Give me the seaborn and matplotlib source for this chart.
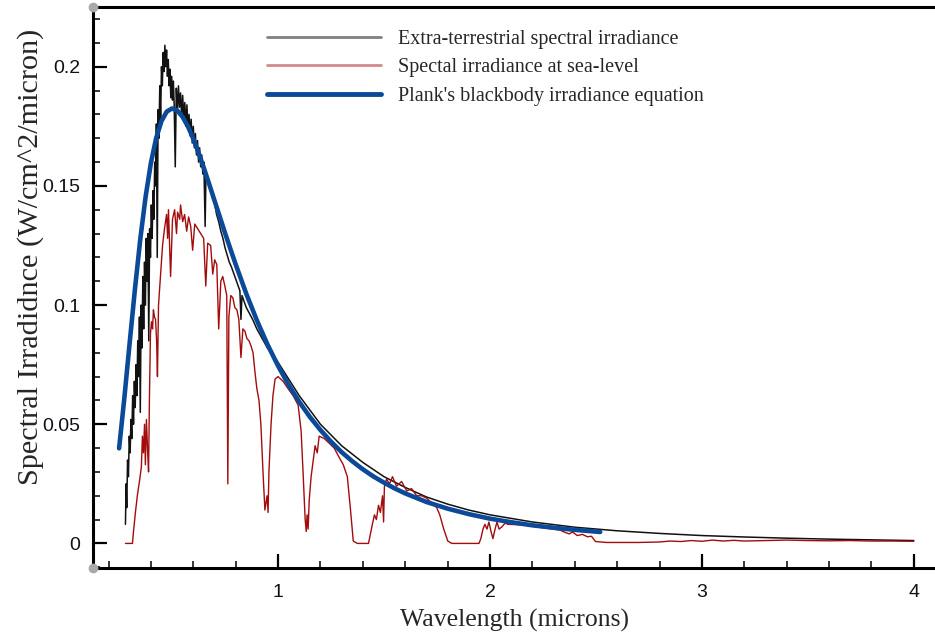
import matplotlib
matplotlib.use("Agg")
import matplotlib.pyplot as plt
import seaborn as sns
import pandas as pd
from matplotlib.lines import Line2D
from matplotlib.ticker import MultipleLocator

# ---------------- data ----------------
ext_wl = [0.280, 0.283, 0.286, 0.290, 0.294, 0.298, 0.302, 0.306, 0.310, 0.314,
          0.318, 0.322, 0.326, 0.330, 0.334, 0.338, 0.342, 0.346, 0.350, 0.354,
          0.358, 0.362, 0.366, 0.370, 0.374, 0.378, 0.382, 0.386, 0.390, 0.394,
          0.398, 0.402, 0.406, 0.410, 0.414, 0.418, 0.422, 0.426, 0.430, 0.434,
          0.438, 0.442, 0.446, 0.450, 0.454, 0.458, 0.462, 0.466, 0.470, 0.474,
          0.478, 0.482, 0.486, 0.490, 0.494, 0.498, 0.502, 0.506, 0.510, 0.515,
          0.520, 0.525, 0.530, 0.535, 0.540, 0.545, 0.550, 0.555, 0.560, 0.565,
          0.570, 0.575, 0.580, 0.585, 0.590, 0.595, 0.600, 0.605, 0.610, 0.615,
          0.620, 0.625, 0.630, 0.635, 0.640, 0.645, 0.650, 0.656, 0.660, 0.670,
          0.680, 0.690, 0.700, 0.710, 0.720, 0.730, 0.740, 0.750, 0.760, 0.770,
          0.780, 0.800, 0.820, 0.825, 0.830, 0.850, 0.880, 0.900, 0.950, 1.000,
          1.100, 1.200, 1.300, 1.400, 1.500, 1.600, 1.700, 1.800, 1.900, 2.000,
          2.200, 2.400, 2.600, 2.800, 3.000, 3.200, 3.400, 3.600, 3.800, 4.000]
ext_irr = [0.008, 0.025, 0.015, 0.035, 0.028, 0.045, 0.038, 0.052, 0.044, 0.062,
           0.050, 0.068, 0.057, 0.075, 0.062, 0.085, 0.070, 0.095, 0.055, 0.100,
           0.082, 0.112, 0.090, 0.118, 0.100, 0.128, 0.110, 0.130, 0.085, 0.132,
           0.120, 0.142, 0.128, 0.148, 0.136, 0.160, 0.150, 0.176, 0.120, 0.182,
           0.170, 0.192, 0.178, 0.200, 0.192, 0.206, 0.198, 0.209, 0.200, 0.207,
           0.196, 0.203, 0.192, 0.199, 0.187, 0.196, 0.186, 0.194, 0.184, 0.158,
           0.191, 0.181, 0.192, 0.183, 0.189, 0.179, 0.188, 0.178, 0.185, 0.175,
           0.184, 0.174, 0.180, 0.171, 0.178, 0.168, 0.175, 0.166, 0.172, 0.163,
           0.169, 0.160, 0.166, 0.158, 0.163, 0.155, 0.160, 0.133, 0.156, 0.152,
           0.149, 0.146, 0.143, 0.138, 0.135, 0.131, 0.128, 0.124, 0.121, 0.118,
           0.116, 0.111, 0.106, 0.094, 0.104, 0.099, 0.094, 0.090, 0.082, 0.076,
           0.062, 0.050, 0.041, 0.034, 0.028, 0.0235, 0.0195, 0.0165, 0.014, 0.012,
           0.0090, 0.0068, 0.0053, 0.0042, 0.0033, 0.0027, 0.0022, 0.0018, 0.0015, 0.0012]

sea_wl = [0.280, 0.313, 0.318, 0.327, 0.336, 0.346, 0.355, 0.360, 0.365, 0.370,
          0.374, 0.379, 0.384, 0.389, 0.393, 0.398, 0.403, 0.408, 0.412, 0.417,
          0.422, 0.427, 0.431, 0.436, 0.445, 0.455, 0.464, 0.474, 0.479, 0.483,
          0.493, 0.502, 0.512, 0.521, 0.526, 0.536, 0.540, 0.550, 0.559, 0.569,
          0.578, 0.588, 0.597, 0.607, 0.621, 0.635, 0.649, 0.659, 0.668, 0.682,
          0.692, 0.701, 0.711, 0.720, 0.730, 0.739, 0.749, 0.758, 0.763, 0.768,
          0.777, 0.787, 0.796, 0.806, 0.815, 0.825, 0.834, 0.844, 0.853, 0.863,
          0.872, 0.882, 0.891, 0.900, 0.910, 0.919, 0.929, 0.938, 0.948, 0.953,
          0.957, 0.967, 0.976, 0.986, 1.000, 1.024, 1.047, 1.071, 1.095, 1.109,
          1.118, 1.128, 1.133, 1.137, 1.142, 1.147, 1.156, 1.166, 1.175, 1.185,
          1.194, 1.218, 1.242, 1.265, 1.289, 1.308, 1.327, 1.341, 1.355, 1.374,
          1.427, 1.436, 1.445, 1.455, 1.464, 1.474, 1.483, 1.493, 1.498, 1.502,
          1.512, 1.526, 1.540, 1.559, 1.583, 1.607, 1.630, 1.654, 1.678, 1.701,
          1.725, 1.749, 1.763, 1.782, 1.801, 1.820, 1.948, 1.957, 1.967, 1.976,
          1.986, 1.995, 2.005, 2.014, 2.024, 2.033, 2.043, 2.057, 2.071, 2.085,
          2.150, 2.250, 2.330, 2.355, 2.374, 2.389, 2.412, 2.436, 2.460, 2.479,
          2.498, 2.550, 2.700, 2.800, 2.850, 2.900, 2.950, 3.000, 3.050, 3.100,
          3.150, 3.200, 3.300, 3.400, 3.500, 3.600, 3.700, 3.800, 3.900, 4.000]
sea_irr = [0.000, 0.000, 0.005, 0.013, 0.020, 0.026, 0.032, 0.045, 0.038, 0.050,
           0.033, 0.052, 0.040, 0.030, 0.060, 0.088, 0.093, 0.090, 0.098, 0.095,
           0.094, 0.085, 0.070, 0.100, 0.112, 0.125, 0.132, 0.138, 0.128, 0.140,
           0.112, 0.136, 0.140, 0.130, 0.139, 0.136, 0.142, 0.135, 0.138, 0.131,
           0.137, 0.133, 0.123, 0.134, 0.132, 0.130, 0.128, 0.108, 0.126, 0.125,
           0.113, 0.119, 0.117, 0.090, 0.110, 0.112, 0.108, 0.104, 0.025, 0.095,
           0.104, 0.103, 0.099, 0.098, 0.094, 0.078, 0.090, 0.089, 0.086, 0.085,
           0.083, 0.080, 0.072, 0.065, 0.060, 0.050, 0.030, 0.014, 0.020, 0.013,
           0.030, 0.050, 0.062, 0.069, 0.070, 0.068, 0.065, 0.062, 0.058, 0.047,
           0.030, 0.010, 0.005, 0.012, 0.006, 0.018, 0.028, 0.035, 0.041, 0.038,
           0.045, 0.044, 0.042, 0.040, 0.036, 0.033, 0.028, 0.015, 0.001, 0.000,
           0.000, 0.004, 0.008, 0.012, 0.010, 0.016, 0.013, 0.020, 0.009, 0.024,
           0.027, 0.025, 0.028, 0.024, 0.026, 0.022, 0.023, 0.020, 0.020, 0.019,
           0.017, 0.015, 0.012, 0.006, 0.001, 0.000, 0.000, 0.002, 0.006, 0.008,
           0.006, 0.009, 0.005, 0.002, 0.006, 0.009, 0.006, 0.007, 0.0085, 0.008,
           0.0078, 0.0066, 0.0056, 0.0046, 0.0040, 0.0048, 0.0033, 0.0038, 0.0028, 0.0030,
           0.0008, 0.0004, 0.0004, 0.0006, 0.0010, 0.0008, 0.0012, 0.0009, 0.0014, 0.0010,
           0.0013, 0.0010, 0.0012, 0.0014, 0.0012, 0.0011, 0.0012, 0.0010, 0.0010, 0.0009]

bb_wl = [0.25, 0.275, 0.30, 0.325, 0.35, 0.375, 0.40, 0.425, 0.45, 0.475, 0.50,
         0.525, 0.55, 0.575, 0.60, 0.625, 0.65, 0.675, 0.70, 0.725, 0.75, 0.775,
         0.80, 0.85, 0.90, 0.95, 1.00, 1.05, 1.10, 1.15, 1.20, 1.25, 1.30, 1.35,
         1.40, 1.45, 1.50, 1.55, 1.60, 1.70, 1.80, 1.90, 2.00, 2.10, 2.20, 2.30,
         2.40, 2.52]
bb_irr = [0.0399, 0.0612, 0.0843, 0.1069, 0.1277, 0.1454, 0.1596, 0.1701, 0.1772,
          0.1812, 0.1825, 0.1816, 0.1789, 0.1749, 0.1698, 0.1639, 0.1575, 0.1508,
          0.1439, 0.1371, 0.1302, 0.1236, 0.1171, 0.1048, 0.0936, 0.0835, 0.0745,
          0.0665, 0.0594, 0.0531, 0.0476, 0.0427, 0.0383, 0.0345, 0.0311, 0.0281,
          0.0255, 0.0231, 0.0210, 0.0174, 0.0146, 0.0123, 0.0104, 0.0089, 0.0076,
          0.0066, 0.0057, 0.0048]

labels = ["Extra-terrestrial spectral irradiance",
          "Spectal irradiance at sea-level",
          "Plank's blackbody irradiance equation"]

# ---------------- figure ----------------
sns.set_style("white")
plt.rcParams['font.family'] = ['Liberation Sans', 'DejaVu Sans']

fig = plt.figure(figsize=(9.35, 6.36), dpi=100)
ax = fig.add_axes([0.0995, 0.1064, 0.9005, 0.8831])

black_c = "#111111"
red_c = "#a30c0c"
blue_c = "#0b4a98"

ext_df = pd.DataFrame({"wl": ext_wl, "irr": ext_irr})
sea_df = pd.DataFrame({"wl": sea_wl, "irr": sea_irr})
bb_df = pd.DataFrame({"wl": bb_wl, "irr": bb_irr})

sns.lineplot(data=ext_df, x="wl", y="irr", ax=ax, color=black_c, linewidth=1.1,
             estimator=None, sort=False)
sns.lineplot(data=sea_df, x="wl", y="irr", ax=ax, color=red_c, linewidth=1.0,
             estimator=None, sort=False)
sns.lineplot(data=bb_df, x="wl", y="irr", ax=ax, color=blue_c, linewidth=3.3,
             estimator=None, sort=False)

ax.set_xlim(0.127, 4.10)
ax.set_ylim(-0.01045, 0.2252)

ax.xaxis.set_major_locator(MultipleLocator(1))
ax.xaxis.set_minor_locator(MultipleLocator(0.2))
ax.yaxis.set_major_locator(MultipleLocator(0.05))
ax.yaxis.set_minor_locator(MultipleLocator(0.01))
ax.set_xticks([1, 2, 3, 4])
ax.set_xticklabels(["1", "2", "3", "4"])
ax.set_yticks([0, 0.05, 0.1, 0.15, 0.2])
ax.set_yticklabels(["0", "0.05", "0.1", "0.15", "0.2"])

ax.tick_params(which="major", direction="in", length=10, width=1.6, color="black",
               labelsize=14, pad=9, labelcolor="#10101a")
ax.tick_params(axis="x", which="major", pad=11)
ax.tick_params(which="minor", direction="in", length=5, width=1.1, color="black")
ax.tick_params(axis="x", which="both", bottom=True, top=False)
ax.tick_params(axis="y", which="both", left=True, right=False)

for side in ["left", "bottom", "top"]:
    ax.spines[side].set_visible(True)
    ax.spines[side].set_color("black")
    ax.spines[side].set_linewidth(2.2)
ax.spines["right"].set_visible(False)

ax.set_xlabel("Wavelength (microns)", family=["Liberation Serif"], fontsize=18.5, labelpad=6)
ax.set_ylabel("Spectral Irradidnce (W/cm^2/micron)", family=["Liberation Serif"],
              fontsize=21.8)
ax.yaxis.set_label_coords(-0.058, 0.554)

# grey dots at the corners of the axis frame
ax.plot([0, 0], [0, 1], transform=ax.transAxes, linestyle="none", marker="o",
        markersize=6, color="#a9a9a9", clip_on=False, zorder=10)

handles = [Line2D([], [], color="#808080", linewidth=2.0),
           Line2D([], [], color="#d48a8a", linewidth=2.0),
           Line2D([], [], color=blue_c, linewidth=3.5, solid_capstyle="round")]
leg = ax.legend(handles, labels, loc="upper left", bbox_to_anchor=(0.1845, 0.9914),
                frameon=False, handlelength=5.7, handletextpad=0.85,
                labelspacing=0.47, prop={"family": "Liberation Serif", "size": 14.5})

fig.savefig("out.png", dpi=100)
